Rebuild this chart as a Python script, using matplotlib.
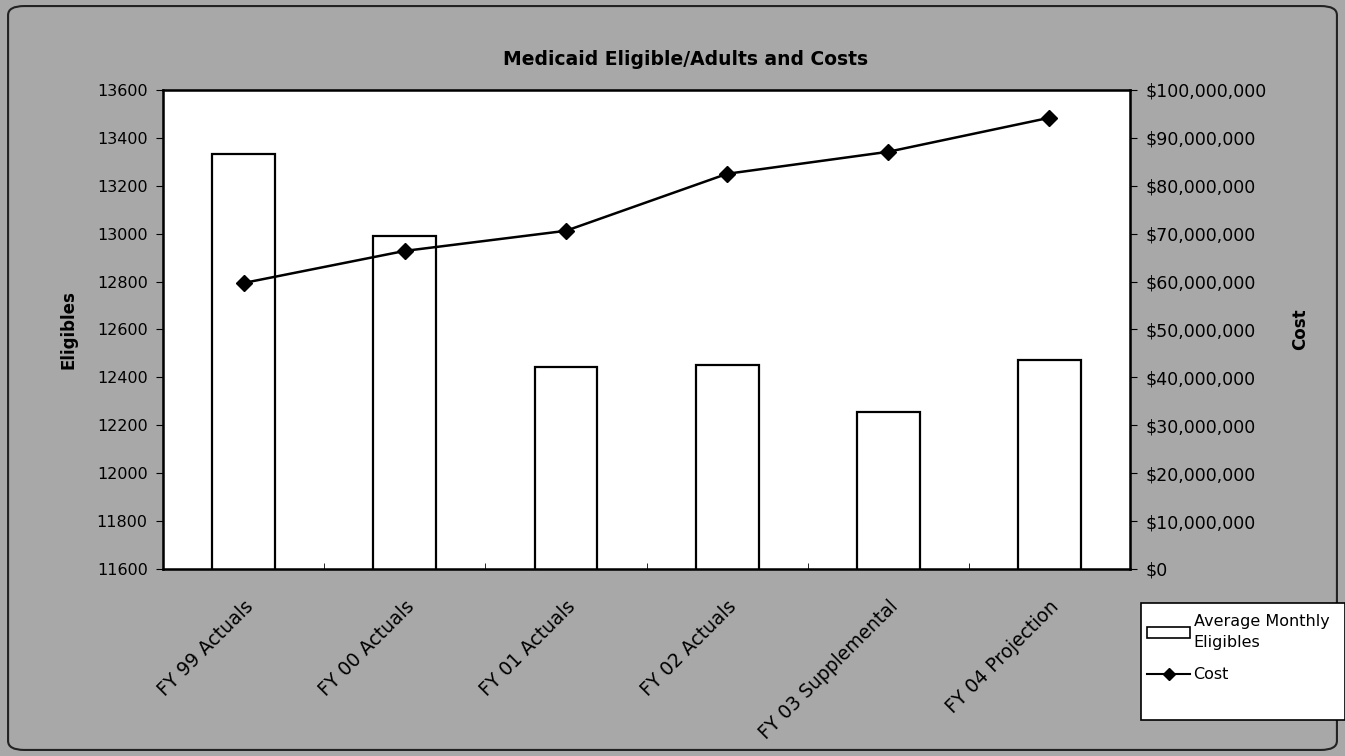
import numpy as np
import matplotlib
matplotlib.use("Agg")
import matplotlib.pyplot as plt
from matplotlib.patches import FancyBboxPatch, Patch, Rectangle
from matplotlib.lines import Line2D
from matplotlib.ticker import FuncFormatter, FixedLocator

plt.rcParams['font.family'] = ['DejaVu Sans']

categories = ["FY 99 Actuals", "FY 00 Actuals", "FY 01 Actuals",
              "FY 02 Actuals", "FY 03 Supplemental", "FY 04 Projection"]
eligibles = [13333, 12990, 12443, 12452, 12256, 12473]
cost = [59.7e6, 66.4e6, 70.6e6, 82.5e6, 87.1e6, 94.2e6]

fig = plt.figure(figsize=(13.45, 7.56), dpi=100)
fig.patch.set_facecolor("#a8a8a8")

# rounded border round the chart
border = FancyBboxPatch((0.006, 0.008), 0.988, 0.984,
                        boxstyle="round,pad=0,rounding_size=0.012",
                        transform=fig.transFigure, facecolor="none",
                        edgecolor="#222222", linewidth=1.5)
fig.patches.append(border)

ax = fig.add_axes([0.1212, 0.2474, 0.719, 0.6336])
ax.set_facecolor("white")
x = np.arange(len(categories))
ax.bar(x, eligibles, width=0.39, color="white", edgecolor="black", linewidth=1.6, zorder=2)
ax.set_xlim(-0.5, len(categories) - 0.5)
ax.set_ylim(11600, 13600)
ax.set_yticks(np.arange(11600, 13601, 200))
ax.set_xticks(x)
ax.set_xticklabels(categories, rotation=45, ha="right", rotation_mode="anchor", fontsize=13.5)
ax.xaxis.set_minor_locator(FixedLocator(np.arange(-0.5, len(categories), 1.0)))
ax.tick_params(axis="x", which="major", length=0, pad=20)
ax.tick_params(axis="x", which="minor", length=4, direction="in")
ax.tick_params(axis="y", labelsize=11.5, length=5, pad=6, direction="out")
ax.set_ylabel("Eligibles", fontsize=12, fontweight="bold", labelpad=14)
for s in ax.spines.values():
    s.set_linewidth(1.8)

ax2 = ax.twinx()
ax2.plot(x, cost, color="black", marker="D", markersize=8, linewidth=1.8, zorder=3)
ax2.set_ylim(0, 100e6)
ax2.set_yticks(np.arange(0, 100e6 + 1, 10e6))
ax2.yaxis.set_major_formatter(FuncFormatter(lambda v, p: "${:,.0f}".format(v)))
ax2.tick_params(axis="y", labelsize=12.5, length=5, pad=6, direction="out")
ax2.set_ylabel("Cost", fontsize=12, fontweight="bold", labelpad=18)

fig.text(0.51, 0.921, "Medicaid Eligible/Adults and Costs", ha="center", va="center",
         fontsize=13.5, fontweight="bold")

# legend box
fig.patches.append(Rectangle((1141 / 1345, 36 / 756), 204 / 1345, 117 / 756,
                             transform=fig.transFigure, facecolor="white",
                             edgecolor="black", linewidth=1.2, zorder=1))
handles = [Patch(facecolor="white", edgecolor="black", linewidth=1.2),
           Line2D([], [], color="black", marker="D", markersize=6, linewidth=1.5)]
leg = fig.legend(handles, ["Average Monthly\nEligibles", "Cost"],
                 loc="upper left", bbox_to_anchor=(0.853, 0.188), fontsize=11.5,
                 frameon=False, handlelength=2.7, handletextpad=0.2, borderpad=0,
                 labelspacing=1.1, borderaxespad=0)
leg.get_texts()[0].set_linespacing(1.5)

fig.savefig("out.png", dpi=100, facecolor=fig.get_facecolor())
